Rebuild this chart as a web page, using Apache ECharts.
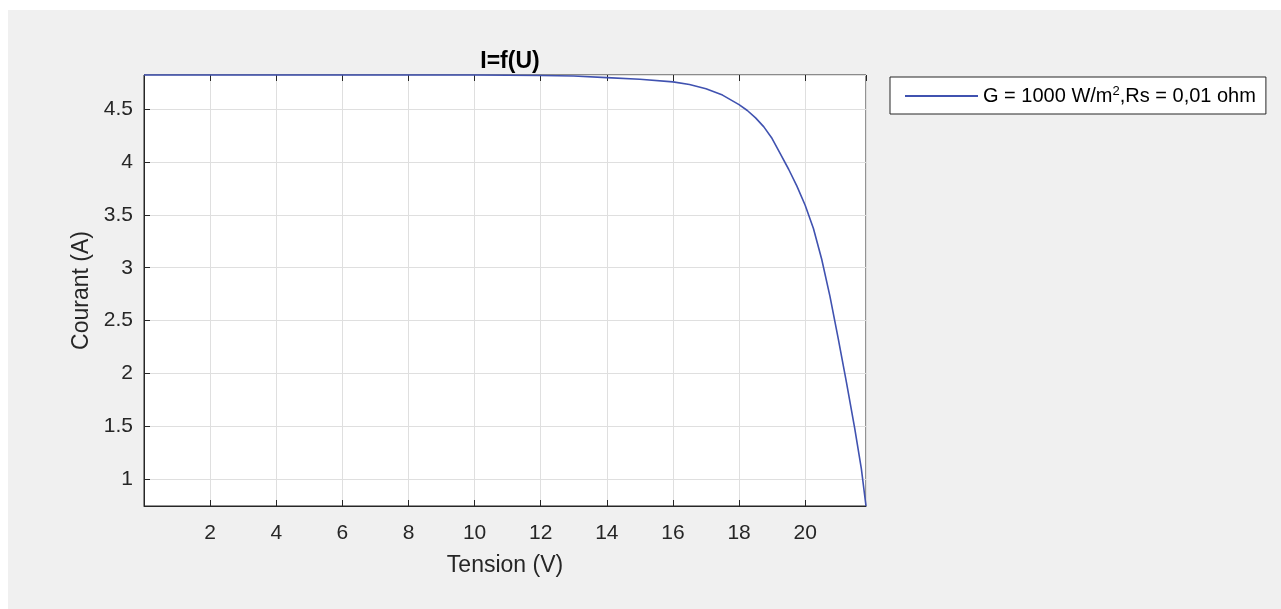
<!DOCTYPE html>
<html>
<head>
<meta charset="utf-8">
<script src="https://cdn.jsdelivr.net/npm/echarts@6/dist/echarts.min.js"></script>
<style>
html,body{margin:0;padding:0;background:#fff;}
#c{width:1281px;height:609px;}
</style>
</head>
<body>
<div id="c"></div>
<script>
// Data (Tension U in V, Courant I in A)
const tension = [0, 2, 4, 6, 8, 10, 12, 13, 14, 15, 16, 16.5, 17, 17.5, 18, 18.25, 18.5, 18.75, 19, 19.25, 19.5, 19.75, 20, 20.25, 20.5, 20.75, 21, 21.25, 21.5, 21.7, 21.84];
const courant = [4.82, 4.82, 4.82, 4.82, 4.82, 4.82, 4.815, 4.81, 4.795, 4.78, 4.755, 4.73, 4.69, 4.63, 4.54, 4.485, 4.415, 4.33, 4.22, 4.075, 3.93, 3.77, 3.59, 3.37, 3.08, 2.73, 2.33, 1.915, 1.48, 1.10, 0.75];
const seriesName = 'G = 1000 W/m2,Rs = 0,01 ohm';
const titleText = 'I=f(U)';
const xName = 'Tension (V)';
const yName = 'Courant (A)';

const points = tension.map((u, i) => [u, courant[i]]);
const FONT = '"Liberation Sans", Arial, Helvetica, sans-serif';
const TXT = '#262626';

const chart = echarts.init(document.getElementById('c'), null, {renderer: 'canvas'});
chart.setOption({
  backgroundColor: '#f0f0f0',
  animation: false,
  textStyle: {fontFamily: FONT},
  graphic: [
    {type: 'rect', shape: {x: 0, y: 0, width: 1281, height: 10}, style: {fill: '#fff'}, silent: true},
    {type: 'rect', shape: {x: 0, y: 0, width: 8, height: 609}, style: {fill: '#fff'}, silent: true}
  ],
  title: {
    text: titleText, left: 505, top: 45, textAlign: 'center',
    textStyle: {fontFamily: FONT, fontSize: 23, fontWeight: 'bold', color: '#000'}
  },
  legend: {
    left: 890, top: 77,
    backgroundColor: '#fff', borderColor: TXT, borderWidth: 1,
    padding: [8, 10, 8, 15],
    itemWidth: 73, itemHeight: 2, icon: 'rect',
    data: [seriesName],
    formatter: () => '{a|G = 1000 W/m}{s|2}{a|,Rs = 0,01 ohm}',
    textStyle: {
      fontFamily: FONT, color: '#000', fontSize: 20,
      rich: {
        a: {fontFamily: FONT, fontSize: 20, color: '#000', lineHeight: 22},
        s: {fontFamily: FONT, fontSize: 13, color: '#000', lineHeight: 13, verticalAlign: 'top'}
      }
    }
  },
  grid: {
    left: 144, top: 75, width: 722, height: 431,
    show: true, backgroundColor: '#fff', borderColor: TXT, borderWidth: 1,
    containLabel: false
  },
  xAxis: [{
    type: 'value', min: 0, max: 21.84, interval: 2, position: 'bottom',
    axisLine: {show: true, lineStyle: {color: TXT, width: 1}},
    axisTick: {show: true, inside: true, length: 6, lineStyle: {color: TXT}},
    name: xName, nameLocation: 'middle', nameGap: 48,
    nameTextStyle: {fontFamily: FONT, fontSize: 23, color: TXT},
    axisLabel: {show: true, margin: 17, fontSize: 21, color: TXT, fontFamily: FONT, showMinLabel: false, showMaxLabel: false},
    splitLine: {show: true, lineStyle: {color: '#dfdfdf', width: 1}}
  }, {
    type: 'value', min: 0, max: 21.84, interval: 2, position: 'top',
    axisLine: {show: false},
    axisTick: {show: true, inside: true, length: 6, lineStyle: {color: TXT}},
    axisLabel: {show: false, showMinLabel: false, showMaxLabel: false},
    splitLine: {show: false}
  }],
  yAxis: {
    type: 'value', min: 0.75, max: 4.82, minInterval: 0.5, maxInterval: 0.5, splitNumber: 8, position: 'left',
    axisLine: {show: true, lineStyle: {color: TXT, width: 1}},
    axisTick: {show: true, inside: true, length: 6, lineStyle: {color: TXT}},
    name: yName, nameLocation: 'middle', nameGap: 47,
    nameTextStyle: {fontFamily: FONT, fontSize: 23, color: TXT},
    axisLabel: {show: true, margin: 11, fontSize: 21, color: TXT, fontFamily: FONT, showMinLabel: false, showMaxLabel: false},
    splitLine: {show: true, lineStyle: {color: '#dfdfdf', width: 1}}
  },
  series: [{
    name: seriesName, type: 'line', data: points,
    xAxisIndex: 0, yAxisIndex: 0,
    smooth: false, symbol: 'none', showSymbol: false, clip: false,
    lineStyle: {color: '#4052b0', width: 1.6},
    itemStyle: {color: '#4052b0'},
    z: 5
  }]
});
</script>
</body>
</html>
